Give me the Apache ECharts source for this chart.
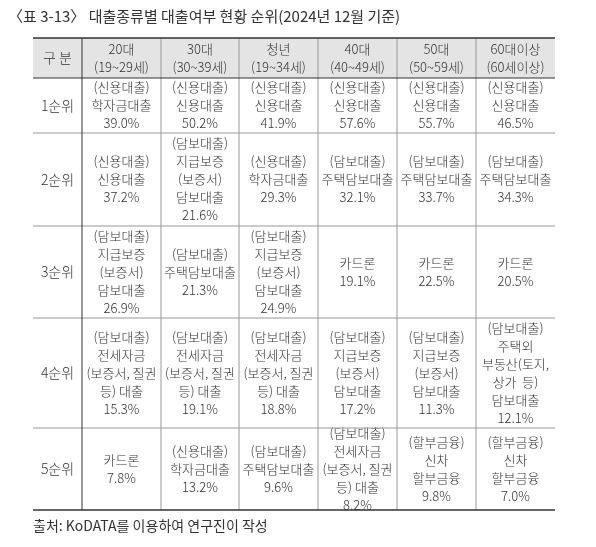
<!DOCTYPE html>
<html><head><meta charset="utf-8">
<script src="https://cdn.jsdelivr.net/npm/echarts@6/dist/echarts.min.js"></script>
<style>html,body{margin:0;padding:0;background:#fff}#c{width:596px;height:547px}</style>
</head><body><div id="c"></div>
<script>
const title = '〈표 3-13〉 대출종류별 대출여부 현황 순위(2024년 12월 기준)';
const source = '출처: KoDATA를 이용하여 연구진이 작성';
const headers = ['구 분','20대\n(19~29세)','30대\n(30~39세)','청년\n(19~34세)','40대\n(40~49세)','50대\n(50~59세)','60대이상\n(60세이상)'];
const ranks = ['1순위','2순위','3순위','4순위','5순위'];
const loanTypes = [
 ['(신용대출)\n학자금대출','(신용대출)\n신용대출','(신용대출)\n신용대출','(신용대출)\n신용대출','(신용대출)\n신용대출','(신용대출)\n신용대출'],
 ['(신용대출)\n신용대출','(담보대출)\n지급보증\n(보증서)\n담보대출','(신용대출)\n학자금대출','(담보대출)\n주택담보대출','(담보대출)\n주택담보대출','(담보대출)\n주택담보대출'],
 ['(담보대출)\n지급보증\n(보증서)\n담보대출','(담보대출)\n주택담보대출','(담보대출)\n지급보증\n(보증서)\n담보대출','카드론','카드론','카드론'],
 ['(담보대출)\n전세자금\n(보증서, 질권\n등) 대출','(담보대출)\n전세자금\n(보증서, 질권\n등) 대출','(담보대출)\n전세자금\n(보증서, 질권\n등) 대출','(담보대출)\n지급보증\n(보증서)\n담보대출','(담보대출)\n지급보증\n(보증서)\n담보대출','(담보대출)\n주택외\n부동산(토지,\n상가  등)\n담보대출'],
 ['카드론','(신용대출)\n학자금대출','(담보대출)\n주택담보대출','(담보대출)\n전세자금\n(보증서, 질권\n등) 대출','(할부금융)\n신차\n할부금융','(할부금융)\n신차\n할부금융']
];
const shares = [
 [39.0,50.2,41.9,57.6,55.7,46.5],
 [37.2,21.6,29.3,32.1,33.7,34.3],
 [26.9,21.3,24.9,19.1,22.5,20.5],
 [15.3,19.1,18.8,17.2,11.3,12.1],
 [7.8,13.2,9.6,8.2,9.8,7.0]
];
const colX = [33,82,161,239,318,397,476,555];
const rowY = [38,78,133,226,318,428,510];
const F = '"Noto Sans CJK KR", sans-serif';
const g = [];
g.push({type:'text',left:8,top:9,style:{text:title,font:'15px '+F,fill:'#333'}});
g.push({type:'rect',shape:{x:colX[0],y:rowY[0],width:colX[7]-colX[0],height:rowY[1]-rowY[0]},style:{fill:'#e4e4e4'}});
function cellText(x0,x1,y0,y1,t,fs){
  g.push({type:'text',style:{text:t,x:(x0+x1)/2,y:(y0+y1)/2,align:'center',verticalAlign:'middle',font:'300 '+fs+'px '+F,fill:'#333',lineHeight:18}});
}
headers.forEach((h,i)=>cellText(colX[i],colX[i+1],rowY[0],rowY[1],h,i===0?14:13));
ranks.forEach((r,ri)=>{
  cellText(colX[0],colX[1],rowY[ri+1],rowY[ri+2],r,14);
  for(let c=0;c<6;c++) cellText(colX[c+1],colX[c+2],rowY[ri+1],rowY[ri+2],loanTypes[ri][c]+'\n'+shares[ri][c].toFixed(1)+'%',13);
});
function line(x1,y1,x2,y2,col,w){g.push({type:'line',shape:{x1,y1,x2,y2},style:{stroke:col,lineWidth:w}});}
for(let i=2;i<rowY.length-1;i++) line(colX[0],rowY[i],colX[7],rowY[i],'#999',1);
for(let i=2;i<colX.length-1;i++) line(colX[i],rowY[0],colX[i],rowY[6],'#999',1);
line(colX[1],rowY[0],colX[1],rowY[6],'#333',1);
line(colX[0],rowY[0],colX[7],rowY[0],'#333',1.5);
line(colX[0],rowY[1],colX[7],rowY[1],'#333',1);
line(colX[0],rowY[6],colX[7],rowY[6],'#333',1.5);
g.push({type:'text',left:33,top:519,style:{text:source,font:'14px '+F,fill:'#333'}});
const chart = echarts.init(document.getElementById('c'));
chart.setOption({animation:false,graphic:g});
</script></body></html>
